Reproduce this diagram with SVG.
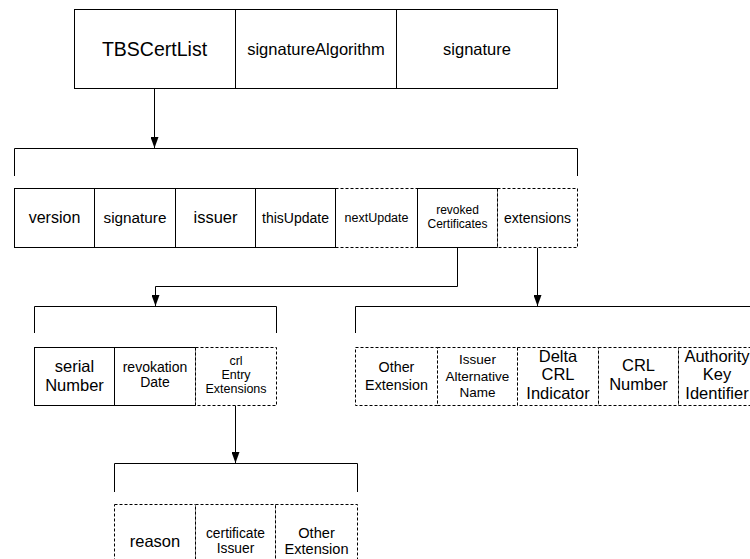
<svg xmlns="http://www.w3.org/2000/svg" width="750" height="559" viewBox="0 0 750 559">
<style>
.b{fill:#fff;stroke:#000;stroke-width:1}
.d{fill:#fff;stroke:#000;stroke-width:1;stroke-dasharray:3,2}
.l{fill:none;stroke:#000;stroke-width:1}
text{font-family:"Liberation Sans",Arial,sans-serif;fill:#000;text-anchor:middle}
</style>
<defs>
<marker id="ah" markerUnits="userSpaceOnUse" markerWidth="11" markerHeight="8" refX="11" refY="4" orient="auto">
<path d="M0,0 L11,4 L0,8 z" fill="#000"/>
</marker>
</defs>
<g id="connectors">
<path class="l" d="M154.5,88.5 V148" marker-end="url(#ah)"/>
<path class="l" d="M14.5,176 V148.5 H577.5 V176"/>
<path class="l" d="M457.5,247.5 V286.5 H155.5 V306" marker-end="url(#ah)"/>
<path class="l" d="M537.5,247.5 V306" marker-end="url(#ah)"/>
<path class="l" d="M34.5,333 V306.5 H276.5 V333"/>
<path class="l" d="M355.5,333 V306.5 H760"/>
<path class="l" d="M235.5,405.5 V463" marker-end="url(#ah)"/>
<path class="l" d="M114.5,492 V463.5 H357.5 V492"/>
</g>
<g id="tbscertlist"><rect class="b" x="74.5" y="9.5" width="161" height="79"/><text x="154.5" y="55.5" font-size="19.5">TBSCertList</text></g>
<g id="sigalg"><rect class="b" x="235.5" y="9.5" width="161" height="79"/><text x="316" y="54.5" font-size="16.5">signatureAlgorithm</text></g>
<g id="signature-top"><rect class="b" x="396.5" y="9.5" width="161" height="79"/><text x="477" y="54.5" font-size="16.5">signature</text></g>

<g id="version"><rect class="b" x="14.5" y="188.5" width="80" height="59"/><text x="54.5" y="223" font-size="16">version</text></g>
<g id="signature"><rect class="b" x="94.5" y="188.5" width="81" height="59"/><text x="135" y="222.5" font-size="15.3">signature</text></g>
<g id="issuer"><rect class="b" x="175.5" y="188.5" width="80" height="59"/><text x="215.5" y="223" font-size="16.5">issuer</text></g>
<g id="nextupdate"><rect class="d" x="335.5" y="188.5" width="82" height="59"/><text x="376.5" y="222" font-size="12.5">nextUpdate</text></g>
<g id="thisupdate"><rect class="b" x="255.5" y="188.5" width="80" height="59"/><text x="295.5" y="222.5" font-size="14">thisUpdate</text></g>
<g id="revoked"><rect class="b" x="417.5" y="188.5" width="80" height="59"/><text x="457.5" y="214" font-size="12">revoked</text><text x="457.5" y="228" font-size="12">Certificates</text></g>
<g id="extensions"><rect class="d" x="497.5" y="188.5" width="80" height="59"/><text x="537.5" y="222.5" font-size="14">extensions</text></g>

<g id="serial"><rect class="b" x="34.5" y="347.5" width="80" height="58"/><text x="74.5" y="372" font-size="16.5">serial</text><text x="74.5" y="390.5" font-size="16.5">Number</text></g>
<g id="revokation"><rect class="b" x="114.5" y="347.5" width="81" height="58"/><text x="155" y="372" font-size="14">revokation</text><text x="155" y="387" font-size="14">Date</text></g>
<g id="crlentry"><rect class="d" x="195.5" y="347.5" width="81" height="58"/><text x="236" y="365" font-size="12.5">crl</text><text x="236" y="379" font-size="12.5">Entry</text><text x="236" y="393" font-size="12.5">Extensions</text></g>

<g id="otherext"><rect class="d" x="355.5" y="347.5" width="82" height="58"/><text x="396.5" y="371.5" font-size="14.3">Other</text><text x="396.5" y="389.5" font-size="14.3">Extension</text></g>
<g id="issueralt"><rect class="d" x="437.5" y="347.5" width="80" height="58"/><text x="477.5" y="363.5" font-size="13.5">Issuer</text><text x="477.5" y="381" font-size="13.5">Alternative</text><text x="477.5" y="397" font-size="13.5">Name</text></g>
<g id="deltacrl"><rect class="d" x="517.5" y="347.5" width="81" height="58"/><text x="558" y="362" font-size="16.5">Delta</text><text x="558" y="380" font-size="16.5">CRL</text><text x="558" y="398.5" font-size="16.5">Indicator</text></g>
<g id="crlnumber"><rect class="d" x="598.5" y="347.5" width="80" height="58"/><text x="638.5" y="371" font-size="16.5">CRL</text><text x="638.5" y="390" font-size="16.5">Number</text></g>
<g id="authkey"><rect class="d" x="678.5" y="347.5" width="80" height="58"/><text x="717" y="362" font-size="16.5">Authority</text><text x="717" y="380" font-size="16.5">Key</text><text x="717" y="398.5" font-size="16.5">Identifier</text></g>

<g id="reason"><rect class="d" x="114.5" y="504.5" width="81" height="60"/><text x="155" y="546.5" font-size="16.5">reason</text></g>
<g id="certissuer"><rect class="d" x="195.5" y="504.5" width="80" height="60"/><text x="235.5" y="538" font-size="13.8">certificate</text><text x="235.5" y="553" font-size="13.8">Issuer</text></g>
<g id="otherext2"><rect class="d" x="275.5" y="504.5" width="82" height="60"/><text x="316.5" y="538" font-size="14.6">Other</text><text x="316.5" y="554" font-size="14.6">Extension</text></g>
</svg>
